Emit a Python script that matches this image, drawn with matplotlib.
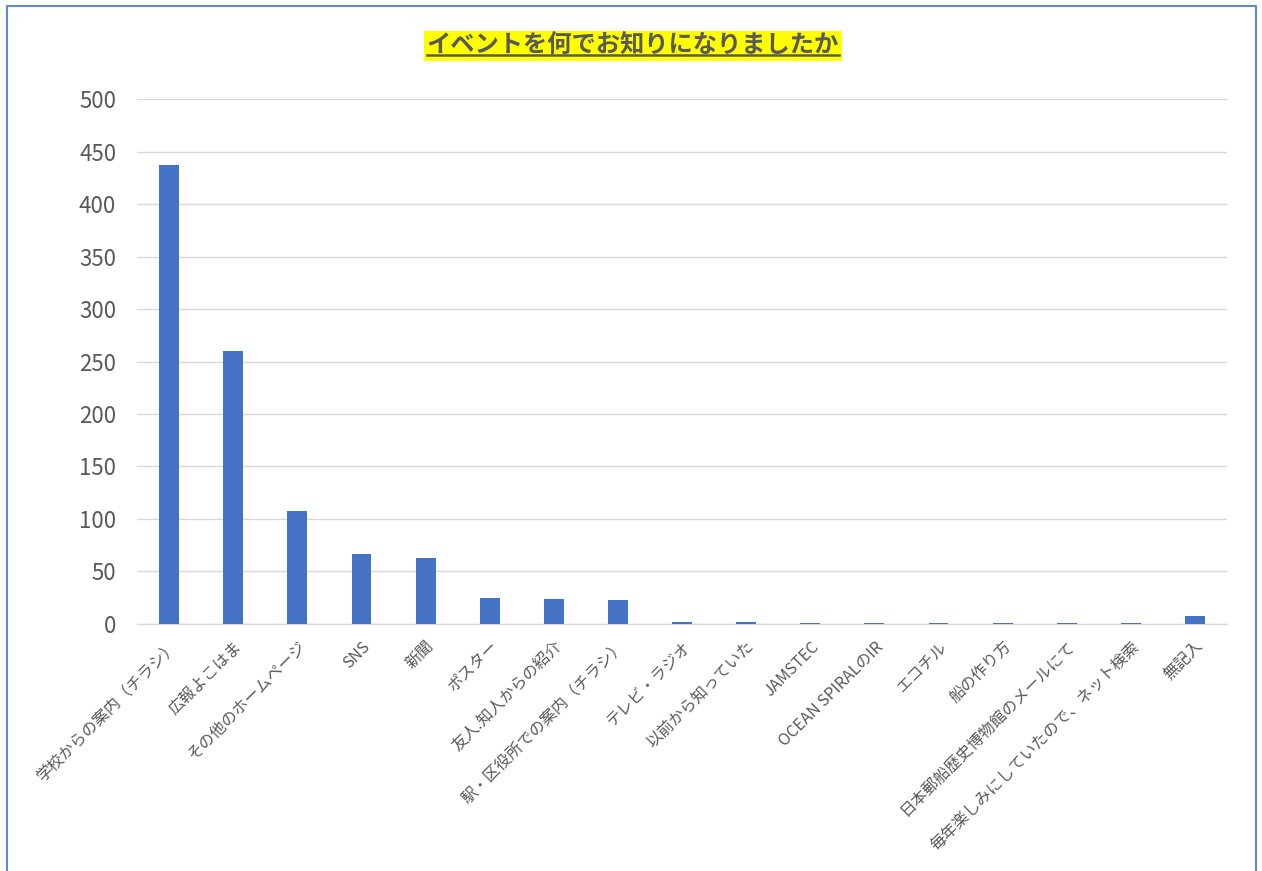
"""
イベント認知経路のアンケート集計 — 棒グラフ
"""

import matplotlib
matplotlib.use("Agg")
import matplotlib.pyplot as plt
from matplotlib.lines import Line2D

plt.rcParams['font.family'] = ['Noto Sans CJK JP', 'DejaVu Sans']

CATEGORIES = [
    "学校からの案内（チラシ）", "広報よこはま", "その他のホームページ", "SNS", "新聞",
    "ポスター", "友人.知人からの紹介", "駅・区役所での案内（チラシ）", "テレビ・ラジオ",
    "以前から知っていた", "JAMSTEC", "OCEAN SPIRALのIR", "エコチル", "船の作り方",
    "日本郵船歴史博物館のメールにて", "毎年楽しみにしていたので、ネット検索", "無記入",
]
COUNTS = [437, 260, 108, 67, 63, 25, 24, 23, 2, 2, 1, 1, 1, 1, 1, 1, 8]
Y_TICKS = [0, 50, 100, 150, 200, 250, 300, 350, 400, 450, 500]

BAR_COL  = "#4472C4"
TEXT_COL = "#595959"
GRID_COL = "#D9D9D9"
EDGE_COL = "#5B8BD0"

fig = plt.figure(figsize=(12.62, 8.71), dpi=100, facecolor="white")
ax = fig.add_axes([0.1086, 0.2836, 0.8637, 0.6027])

x = range(len(CATEGORIES))
ax.bar(x, COUNTS, width=0.31, color=BAR_COL, zorder=3)

ax.set_xlim(-0.5, len(CATEGORIES) - 0.5)
ax.set_ylim(0, 500)
ax.set_yticks(Y_TICKS)
ax.grid(axis="y", color=GRID_COL, linewidth=1.0, zorder=0)
for side in ("top", "right", "left"):
    ax.spines[side].set_visible(False)
ax.spines["bottom"].set_color(GRID_COL)
ax.spines["bottom"].set_linewidth(1.0)
ax.tick_params(axis="y", length=0, labelsize=16, labelcolor=TEXT_COL, pad=15)
ax.tick_params(axis="x", length=0, pad=10)
ax.set_xticks(list(x))
ax.set_xticklabels(CATEGORIES, rotation=45, ha="right", rotation_mode="anchor",
                   fontsize=11.5, color=TEXT_COL)

# title: yellow highlight + underline
title = fig.text(0.5015, 0.947, "イベントを何でお知りになりましたか", ha="center", va="center",
                 fontsize=17.5, fontweight="bold", color="#595959", zorder=4,
                 bbox=dict(boxstyle="square,pad=0.12", fc="#FFFF00", ec="none"))
fig.canvas.draw()
bb = title.get_window_extent().transformed(fig.transFigure.inverted())
uy = bb.y0 + 0.004
fig.add_artist(Line2D([bb.x0, bb.x1], [uy, uy], transform=fig.transFigure,
                      color="#595959", linewidth=1.8, zorder=6))

# outer frame (bottom edge cut off in the original)
fx0, fx1, fy1 = 7 / 1262, 1256 / 1262, 1 - 6 / 871
fig.add_artist(Line2D([fx0, fx0, fx1, fx1], [0, fy1, fy1, 0], transform=fig.transFigure,
                      color=EDGE_COL, linewidth=1.5))

fig.savefig("out.png", dpi=100, facecolor="white")
